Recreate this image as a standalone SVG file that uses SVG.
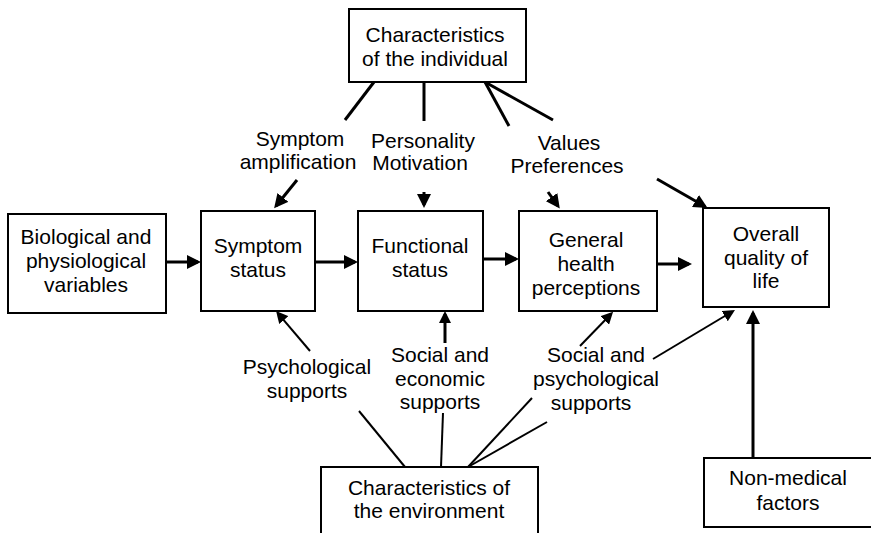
<svg xmlns="http://www.w3.org/2000/svg" width="871" height="533" viewBox="0 0 871 533">
<style>
.box{fill:#fff;stroke:#000;stroke-width:2}
text{font-family:"Liberation Sans",Arial,sans-serif;font-size:21px;fill:#000;text-anchor:middle}
.thick{stroke:#000;stroke-width:3;fill:none}
.thin{stroke:#000;stroke-width:2;fill:none}
.arr{marker-end:url(#ah)}
.arrs{marker-end:url(#ahs)}
</style>
<defs>
<marker id="ah" markerUnits="userSpaceOnUse" markerWidth="14" markerHeight="14" refX="11" refY="7" orient="auto">
<path d="M0,0 L14,7 L0,14 z" fill="#000"/>
</marker>
<marker id="ahs" markerUnits="userSpaceOnUse" markerWidth="12" markerHeight="12" refX="9" refY="6" orient="auto">
<path d="M0,0 L12,6 L0,12 z" fill="#000"/>
</marker>
</defs>
<rect width="871" height="533" fill="#fff"/>
<g id="connectors">
<line class="thick" x1="374" y1="82" x2="345" y2="120"/>
<line class="thick" x1="424" y1="82" x2="424" y2="121"/>
<line class="thick" x1="485" y1="82" x2="509" y2="126"/>
<line class="thick" x1="485" y1="82" x2="553" y2="120"/>
<line class="thick arr" x1="297" y1="180" x2="276" y2="206"/>
<line class="thick arr" x1="424" y1="192" x2="424" y2="205"/>
<line class="thick arr" x1="548" y1="192" x2="558" y2="206"/>
<line class="thick arr" x1="657" y1="179" x2="705" y2="206.5"/>
<line class="thick arr" x1="166" y1="262" x2="198" y2="262"/>
<line class="thick arr" x1="315" y1="262" x2="355" y2="262"/>
<line class="thick arr" x1="483" y1="259" x2="516" y2="259"/>
<line class="thick arr" x1="657" y1="264" x2="689" y2="264"/>
<line class="thick arr" x1="753" y1="458" x2="753" y2="313"/>
<line class="thin" x1="405" y1="467" x2="359" y2="411"/>
<line class="thin" x1="441" y1="467" x2="443" y2="413"/>
<line class="thin" x1="468" y1="467" x2="532" y2="398"/>
<line class="thin" x1="468" y1="467" x2="547" y2="422"/>
<line class="thin arrs" x1="310" y1="351" x2="278" y2="313.3"/>
<line class="thick arrs" x1="445" y1="343" x2="445" y2="314"/>
<line class="thin arrs" x1="580" y1="346" x2="611" y2="314"/>
<line class="thin arrs" x1="653" y1="359" x2="732.4" y2="311.5"/>
</g>
<g id="labels">
<text x="300" y="146">Symptom</text>
<text x="298" y="169">amplification</text>
<text x="423" y="148">Personality</text>
<text x="420" y="170">Motivation</text>
<text x="569" y="150">Values</text>
<text x="567" y="173">Preferences</text>
<text x="307" y="374">Psychological</text>
<text x="307" y="398">supports</text>
<text x="440" y="362">Social and</text>
<text x="440" y="386">economic</text>
<text x="440" y="409">supports</text>
<text x="596" y="362">Social and</text>
<text x="596" y="386">psychological</text>
<text x="591" y="410">supports</text>
</g>
<g id="individual">
<rect class="box" x="349" y="9" width="177" height="73"/>
<text x="435" y="42">Characteristics</text>
<text x="435" y="66">of the individual</text>
</g>
<g id="biological">
<rect class="box" x="8" y="214" width="158" height="99"/>
<text x="86" y="244">Biological and</text>
<text x="86" y="268">physiological</text>
<text x="86" y="292">variables</text>
</g>
<g id="symptom">
<rect class="box" x="201" y="211" width="114" height="100"/>
<text x="258" y="253">Symptom</text>
<text x="258" y="277">status</text>
</g>
<g id="functional">
<rect class="box" x="358" y="211" width="125" height="100"/>
<text x="420" y="253">Functional</text>
<text x="420" y="277">status</text>
</g>
<g id="general">
<rect class="box" x="519" y="211" width="138" height="100"/>
<text x="586" y="247">General</text>
<text x="586" y="271">health</text>
<text x="586" y="295">perceptions</text>
</g>
<g id="overall">
<rect class="box" x="703" y="208" width="126" height="99"/>
<text x="766" y="241">Overall</text>
<text x="766" y="265">quality of</text>
<text x="766" y="288">life</text>
</g>
<g id="environment">
<rect class="box" x="321" y="467" width="217" height="80"/>
<text x="429" y="495">Characteristics of</text>
<text x="429" y="518">the environment</text>
</g>
<g id="nonmedical">
<rect class="box" x="704" y="458" width="170" height="69"/>
<text x="788" y="485">Non-medical</text>
<text x="788" y="510">factors</text>
</g>
</svg>
